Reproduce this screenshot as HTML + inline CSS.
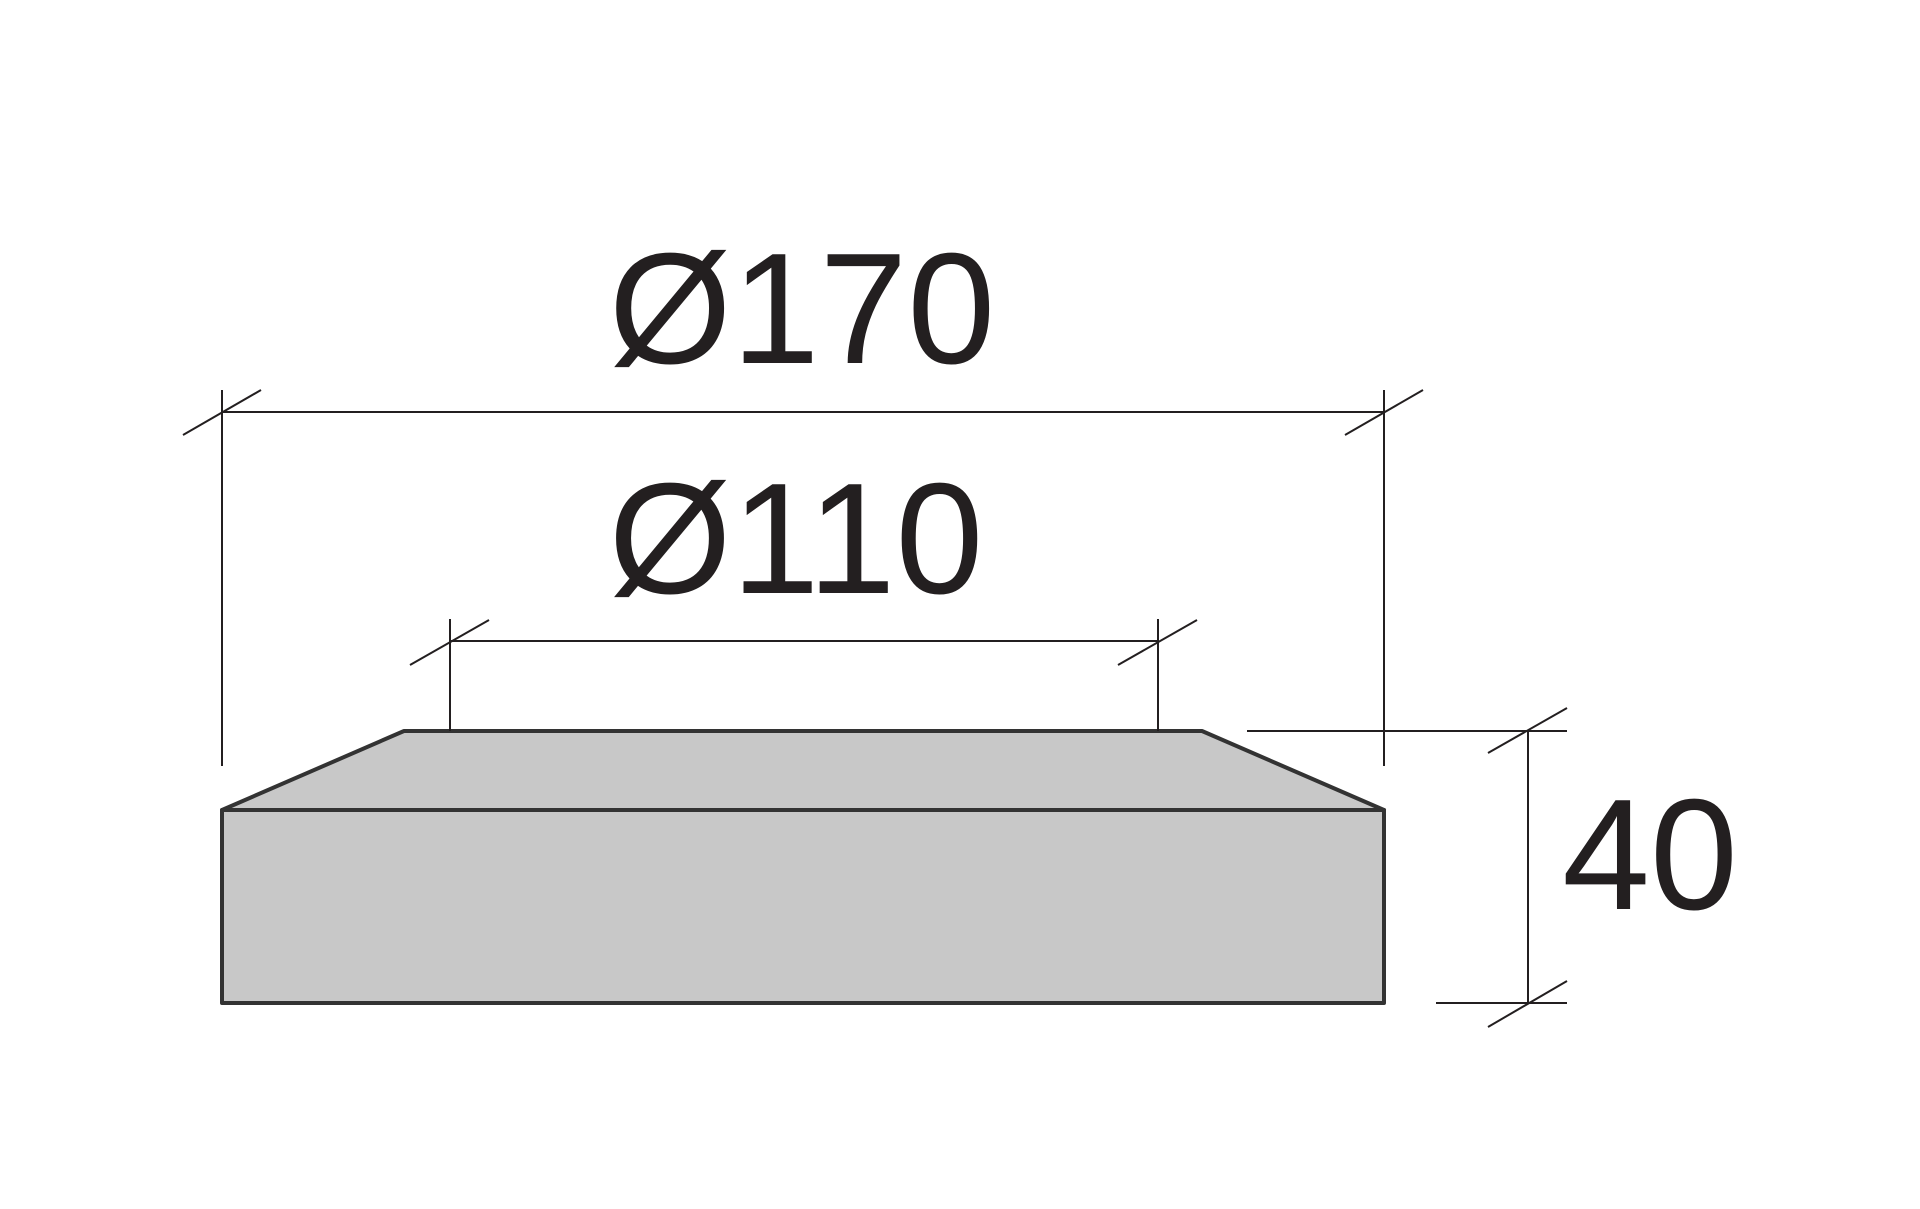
<!DOCTYPE html>
<html><head><meta charset="utf-8"><style>html,body{margin:0;padding:0;background:#fff}svg{display:block}
text{font-family:"Liberation Sans",Arial,sans-serif;font-size:158px;fill:#231f20}</style></head>
<body>
<svg width="1920" height="1209" viewBox="0 0 1920 1209" xmlns="http://www.w3.org/2000/svg">
<g fill="#c8c8c8" stroke="#333" stroke-width="4" stroke-linejoin="round">
<polygon points="222,810 404,731 1202,731 1384,810"/>
<rect x="222" y="810" width="1162" height="193"/>
</g>
<g stroke="#231f20" stroke-width="2" fill="none">
<line x1="222" y1="390" x2="222" y2="766"/>
<line x1="1384" y1="390" x2="1384" y2="766"/>
<line x1="222" y1="412" x2="1384" y2="412"/>
<line x1="183" y1="435" x2="261" y2="390"/>
<line x1="1345" y1="435" x2="1423" y2="390"/>
<line x1="450" y1="619" x2="450" y2="731"/>
<line x1="1158" y1="619" x2="1158" y2="731"/>
<line x1="450" y1="641" x2="1158" y2="641"/>
<line x1="410" y1="665" x2="489" y2="620"/>
<line x1="1118" y1="665" x2="1197" y2="620"/>
<line x1="1247" y1="731" x2="1567" y2="731"/>
<line x1="1436" y1="1003" x2="1567" y2="1003"/>
<line x1="1528" y1="731" x2="1528" y2="1003"/>
<line x1="1488" y1="753" x2="1567" y2="708"/>
<line x1="1488" y1="1027" x2="1567" y2="981"/>
</g>
<text x="802" y="363" text-anchor="middle">Ø170</text>
<text x="796" y="593" text-anchor="middle">Ø110</text>
<text x="1650" y="909" text-anchor="middle">40</text>
</svg>
</body></html>
